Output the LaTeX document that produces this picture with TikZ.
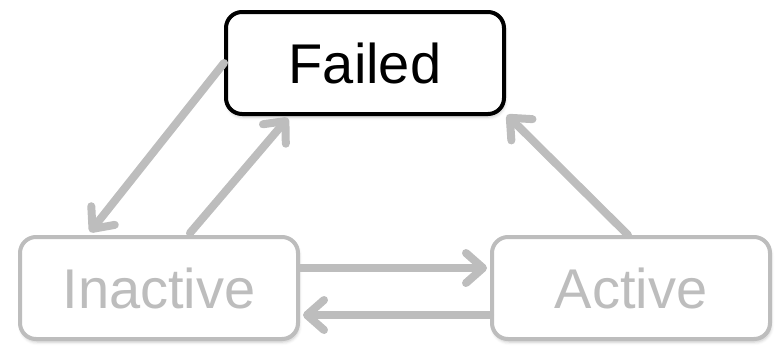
\documentclass[tikz,border=0pt]{standalone}
\usepackage{fontspec}
\setmainfont{Liberation Sans}
\usetikzlibrary{arrows.meta,shadows.blur}
\definecolor{dimgray}{HTML}{BDBDBD}
\begin{document}
\begin{tikzpicture}[x=1pt,y=-1pt,
  state/.style={draw, rounded corners=16pt, line width=4pt,
    minimum width=278pt, minimum height=102pt, inner sep=0pt,
    fill=white, font=\fontsize{56}{60}\selectfont,
    blur shadow={shadow xshift=1pt, shadow yshift=-3pt,
      shadow blur radius=3pt, shadow opacity=22}},
  faded/.style={state, draw=dimgray, text=dimgray},
  flow/.style={draw=dimgray, line width=8pt, line cap=round,
    -{Straight Barb[round, length=17pt, width=30pt]}}]
  \useasboundingbox (0,0) rectangle (779,349);

  % the three states
  \node[state]  (failed)   at (365,63)  {Failed};
  \node[faded]  (inactive) at (159,288) {Inactive};
  \node[faded]  (active)   at (631,288) {Active};

  % transitions
  \draw[flow] (failed.west) -- ([xshift=-69pt,yshift=3pt]inactive.north);
  \draw[flow] ([xshift=31pt,yshift=2pt]inactive.north) -- ([xshift=-77pt,yshift=-2pt]failed.south);
  \draw[flow] ([xshift=-3pt]active.north) -- ([xshift=1pt,yshift=1pt]failed.south east);
  \draw[flow] ([yshift=20pt]inactive.east) -- ([xshift=-3pt,yshift=20pt]active.west);
  \draw[flow] ([yshift=-27pt]active.west) -- ([xshift=3pt,yshift=-27pt]inactive.east);
\end{tikzpicture}
\end{document}
